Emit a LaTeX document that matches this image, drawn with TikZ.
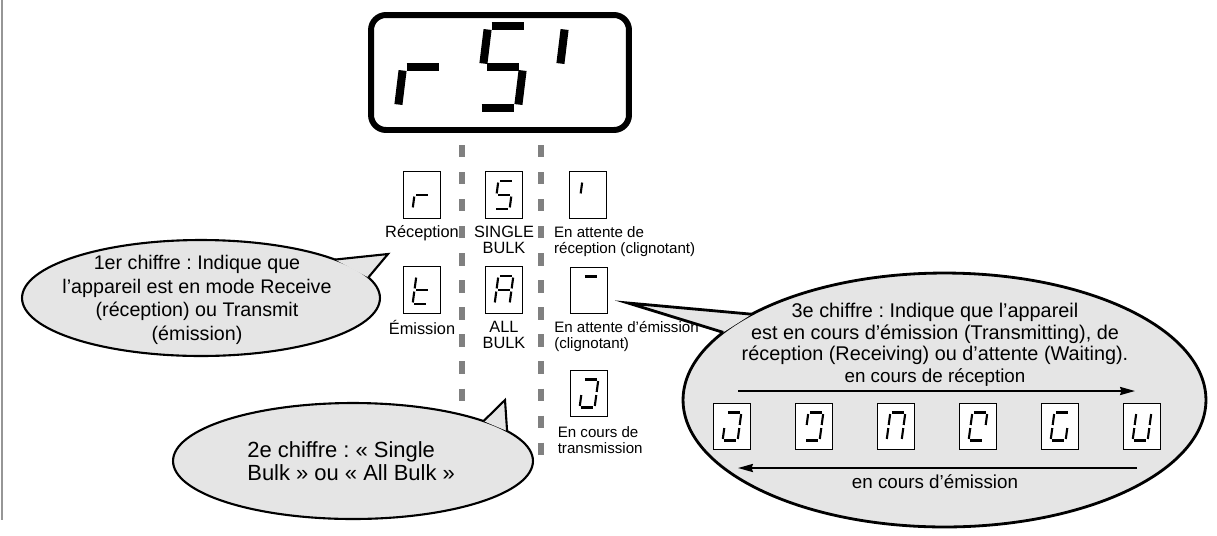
\documentclass[tikz,border=0pt]{standalone}
\usepackage{fontspec}
\setmainfont{Liberation Sans}
\usetikzlibrary{shapes.geometric, arrows.meta, positioning}
\definecolor{calloutgray}{RGB}{229, 229, 229}
\definecolor{divgray}{RGB}{128, 128, 128}
\definecolor{framegray}{RGB}{150, 150, 150}
\frenchspacing

\newcommand{\dsega}{\draw[segstyle] (0.25,0) -- (1.25,0);}
\newcommand{\dsegb}{\draw[segstyle] (1.25,0) -- (1.125,1);}
\newcommand{\dsegc}{\draw[segstyle] (1.125,1) -- (1,2);}
\newcommand{\dsegd}{\draw[segstyle] (0,2) -- (1,2);}
\newcommand{\dsege}{\draw[segstyle] (0.125,1) -- (0,2);}
\newcommand{\dsegf}{\draw[segstyle] (0.25,0) -- (0.125,1);}
\newcommand{\dsegg}{\draw[segstyle] (0.125,1) -- (1.125,1);}
\newcommand{\segdigit}[6]{% style, x, y, x unit, y unit, segments
  \begin{scope}[shift={(#2,#3)}, xscale=#4, yscale=#5, segstyle/.style={#1}]
    \foreach \s in {#6} {\csname dseg\s\endcsname}
  \end{scope}}
\newcommand{\segbox}[4]{% name, x, y, segments
  \node[digbox] (#1) at (#2,#3) {};
  \segdigit{smallseg}{#2-9.4}{#3-14}{15}{14}{#4}}

\begin{document}
\begin{tikzpicture}[x=0.02cm, y=-0.02cm,
    display/.style={draw, line width=3.4pt, rounded corners=0.3cm, minimum width=5.16cm, minimum height=2.3cm, inner sep=0},
    digbox/.style={draw, fill=white, line width=0.6pt, minimum width=0.75cm, minimum height=0.93cm, inner sep=0},
    bigseg/.style={line width=4.6pt, shorten <=2pt, shorten >=2pt},
    smallseg/.style={line width=1.2pt, shorten <=0.9pt, shorten >=0.9pt},
    divider/.style={draw=divgray, line width=3.3pt, dash pattern=on 7pt off 8.4pt},
    lbl/.style={font=\fontsize{9.3}{9.1}\selectfont, align=center, inner sep=0},
    lblleft/.style={font=\fontsize{8.6}{9.1}\selectfont, align=left, inner sep=0},
    callout/.style={ellipse, draw, fill=calloutgray, line width=1.2pt, inner sep=0, outer sep=0},
    calltext/.style={font=\fontsize{11.2}{13.4}\selectfont, align=center, inner sep=0},
    pointer/.style={draw, line width=1.2pt, line join=miter},
    arrlbl/.style={font=\fontsize{10.7}{12}\selectfont, inner sep=0},
    arr/.style={line width=1.1pt, -{Stealth[length=8.5pt, width=4.6pt, inset=0.8pt]}}]
    \useasboundingbox (0,0) rectangle (1217,535);

    \draw[framegray, line width=1.4pt] (2,0) -- (2,520);

    \node[display] (disp) at (500,72.5) {};
    \segdigit{bigseg}{398}{26}{40}{41}{e,g}
    \segdigit{bigseg}{478}{26}{40}{41}{a,f,g,c,d}
    \segdigit{bigseg}{555}{26}{40}{41}{f}

    \draw[divider] (462,145) -- (462,468);
    \draw[divider] (541,145) -- (541,468);

    \segbox{dr}{422}{195}{e,g}
    \segbox{ds}{504}{195}{a,f,g,c,d}
    \segbox{dw}{588}{195}{f}
    \segbox{dt}{422}{290}{d,e,f,g}
    \segbox{da}{504}{290}{a,b,c,e,f,g}
    \segbox{dx}{589}{290.5}{a}
    \segbox{dj}{589}{393.5}{a,b,c,d,e}

    \node[lbl, below=3.5pt of dr] {Réception};
    \node[lbl, below=4pt of ds] {SINGLE\\BULK};
    \node[lblleft, below right=4pt and -8.5pt of dw.south west] {En attente de\\réception (clignotant)};
    \node[lbl, below=3.5pt of dt] {Émission};
    \node[lbl, below=4pt of da] {ALL\\BULK};
    \node[lblleft, below right=4pt and -9pt of dx.south west] {En attente d’émission\\(clignotant)};
    \node[lblleft, below right=5pt and -7pt of dj.south west] {En cours de\\transmission};

    \node[callout, minimum width=7.16cm, minimum height=2.32cm] (c1) at (201,298) {};
    \node[callout, minimum width=7.2cm, minimum height=2.32cm] (c2) at (353,461) {};
    \node[callout, line width=1.6pt, minimum width=10.46cm, minimum height=5.08cm] (c3) at (944.5,400) {};

    \coordinate (t1) at (388,254);
    \coordinate (t2) at (505,400);
    \coordinate (t3) at (628,303);
    \fill[calloutgray] (c1.16) -- (t1) -- (c1.7) -- cycle;
    \draw[pointer] (c1.16) -- (t1) -- (c1.7);
    \fill[calloutgray] (c2.17) -- (t2) -- (c2.11.5) -- cycle;
    \draw[pointer] (c2.17) -- (t2) -- (c2.11.5);
    \fill[calloutgray] (c3.156) -- (t3) -- (c3.163) -- cycle;
    \draw[pointer, line width=1.6pt] (c3.156) -- (t3) -- (c3.163);

    \node[calltext] at (197,300) {1er chiffre : Indique que\\l’appareil est en mode Receive\\(réception) ou Transmit\\(émission)};
    \node[calltext, font=\fontsize{12.5}{13.2}\selectfont, align=left, anchor=west] at (247,461) {2e chiffre : « Single\\Bulk » ou « All Bulk »};
    \node[calltext, font=\fontsize{11.3}{12.4}\selectfont] at (935,334) {3e chiffre : Indique que l’appareil\\est en cours d’émission (Transmitting), de\\réception (Receiving) ou d’attente (Waiting).};

    \node[arrlbl] at (935,378) {en cours de réception};
    \coordinate (rx1) at (738,391);
    \coordinate (rx2) at (1135,391);
    \draw[arr] (rx1) -- (rx2);
    \segbox{w1}{732}{426.5}{a,b,c,d,e}
    \segbox{w2}{814}{426.5}{a,b,c,d,f}
    \segbox{w3}{896}{426.5}{a,b,c,e,f}
    \segbox{w4}{978}{426.5}{a,b,d,e,f}
    \segbox{w5}{1060}{426.5}{a,c,d,e,f}
    \segbox{w6}{1142}{426.5}{b,c,d,e,f}
    \coordinate (tx1) at (1137,468);
    \coordinate (tx2) at (738,468);
    \draw[arr] (tx1) -- (tx2);
    \node[arrlbl] at (935,482) {en cours d’émission};
\end{tikzpicture}
\end{document}
